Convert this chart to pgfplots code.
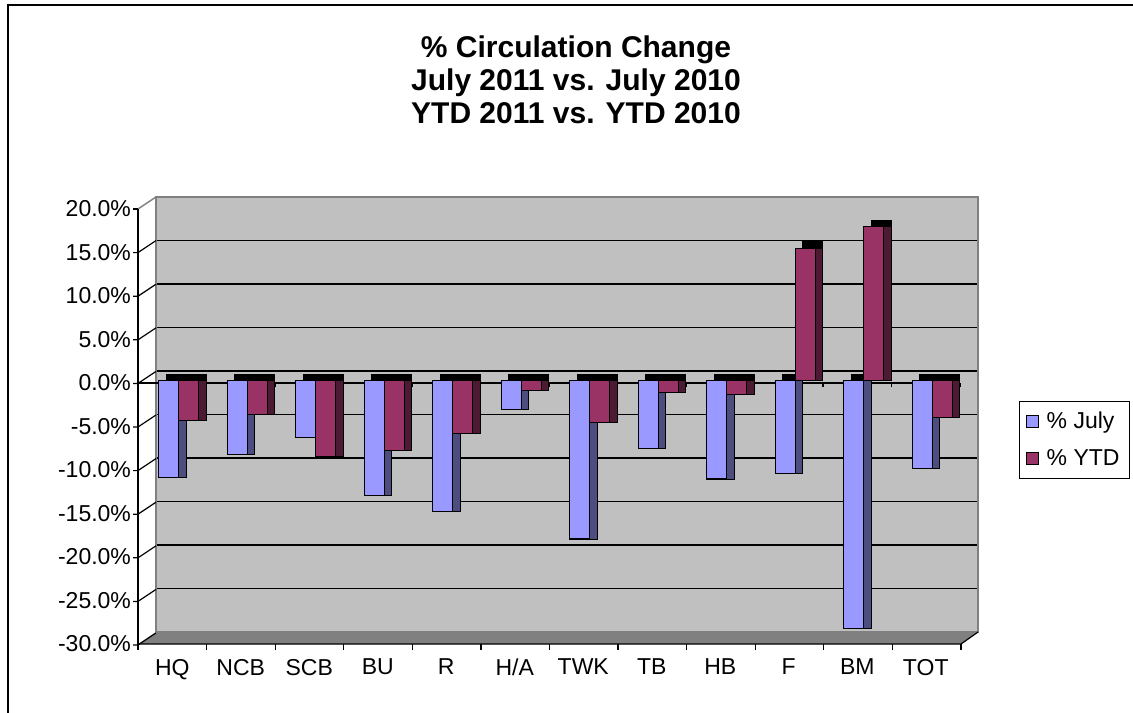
\documentclass[border=0pt]{standalone}
\usepackage{fontspec}
\setmainfont{Liberation Sans}
\usepackage{pgfplots}
\usepackage{pgfplotstable}
\pgfplotsset{compat=1.18}
\definecolor{wall}{RGB}{192,192,192}
\definecolor{floorc}{RGB}{128,128,128}
\definecolor{julyc}{RGB}{153,153,255}
\definecolor{julys}{RGB}{77,77,128}
\definecolor{ytdc}{RGB}{153,51,102}
\definecolor{ytds}{RGB}{77,26,51}

\pgfplotstableread{
idx july ytd
0 -11.1 -4.6
1 -8.5 -3.9
2 -6.5 -8.7
3 -13.2 -8.0
4 -15.0 -6.1
5 -3.3 -1.1
6 -18.2 -4.8
7 -7.8 -1.4
8 -11.3 -1.6
9 -10.7 15.2
10 -28.5 17.7
11 -10.1 -4.2
}\data

\begin{document}
\begin{tikzpicture}
\useasboundingbox (0,0) rectangle (566.5pt,-356pt);
\begin{scope}[x=0.5pt,y=-0.5pt]
  \draw[black, line width=0.6pt] (8,740) -- (8,5) -- (1160,5);
  \node[align=center, font=\bfseries\fontsize{15}{16.5}\selectfont] at (576,80)
    {\% Circulation Change\\July 2011 vs. July 2010\\YTD 2011 vs. YTD 2010};
\end{scope}
\begin{axis}[
  at={(78pt,-316pt)}, anchor=south west,
  scale only axis, width=411pt, height=217.5pt,
  xmin=-0.5, xmax=11.5, ymin=-30, ymax=20,
  ybar, bar width=10pt,
  clip=false,
  axis background/.style={fill=wall},
  axis line style={draw=floorc, line width=0.75pt},
  ymajorgrids, major grid style={black, line width=0.75pt},
  ytick={-30,-25,...,20},
  yticklabels={-30.0\%,-25.0\%,-20.0\%,-15.0\%,-10.0\%,-5.0\%,0.0\%,5.0\%,10.0\%,15.0\%,20.0\%},
  xtick={0,...,11},
  xticklabels={HQ,NCB,SCB,BU,R,H/A,TWK,TB,HB,F,BM,TOT},
  major tick length=0pt,
  tick label style={font=\fontsize{11.5}{13}\selectfont},
  yticklabel style={xshift=-9pt, yshift=-6pt},
  xticklabel style={xshift=-9pt, yshift=-10pt},
  legend style={at={(1.0499,0.531)}, anchor=north west, draw=black, line width=0.6pt,
    font=\fontsize{11.5}{13}\selectfont, row sep=5pt, inner xsep=3pt, inner ysep=3pt},
  legend cell align=left,
]
\draw[black, line width=0.75pt, xshift=-9pt, yshift=-6pt] (axis cs:-0.5,0) -- (axis cs:11.5,0);
\pgfplotsinvokeforeach{-0.5,0.5,...,11.5}{
  \draw[black, line width=0.6pt, xshift=-9pt, yshift=-6pt] (axis cs:#1,0) -- ++(0pt,-2pt);
}
% July series
\addplot[forget plot, fill=black, draw=black, line width=0.5pt, bar shift=-5pt, xshift=-2pt, yshift=-1.6pt] table[x=idx,y=july]{\data};
\addplot[forget plot, fill=julys, draw=black, line width=0.5pt, bar shift=-5pt, xshift=-2pt, yshift=-4.85pt] table[x=idx,y=july]{\data};
\addplot[forget plot, fill=julyc, draw=black, line width=0.6pt, bar shift=-5pt, xshift=-5.75pt, yshift=-4.85pt] table[x=idx,y=july]{\data};
% YTD series
\addplot[forget plot, fill=black, draw=black, line width=0.5pt, bar shift=5pt, xshift=-2pt, yshift=-1.6pt] table[x=idx,y=ytd]{\data};
\addplot[forget plot, fill=ytds, draw=black, line width=0.5pt, bar shift=5pt, xshift=-2pt, yshift=-4.85pt] table[x=idx,y=ytd]{\data};
\addplot[forget plot, fill=ytdc, draw=black, line width=0.6pt, bar shift=5pt, xshift=-5.75pt, yshift=-4.85pt] table[x=idx,y=ytd]{\data};
\addlegendimage{legend image code/.code={\draw[fill=julyc, draw=black, line width=0.5pt] (2pt,-3pt) rectangle (8pt,3pt); \path (10pt,0pt);}}
\addlegendentry{\% July}
\addlegendimage{legend image code/.code={\draw[fill=ytdc, draw=black, line width=0.5pt] (2pt,-3pt) rectangle (8pt,3pt); \path (10pt,0pt);}}
\addlegendentry{\% YTD}
\end{axis}
\begin{scope}[x=0.5pt,y=-0.5pt]
  \fill[floorc] (156,632) -- (978,632) -- (961,644) -- (138,644) -- cycle;
  \draw[black, line width=0.6pt] (138,644) -- (961,644) -- (978,632);
  \draw[floorc, line width=0.75pt] (138,209) -- (156,197);
  \draw[black, line width=0.75pt] (138,209) -- (138,645);
  \draw[black, line width=0.6pt] (133,209) -- (138,209);
  \foreach \v in {-30,-25,...,15} {
    \pgfmathsetmacro{\yf}{383.4-\v*8.72}
    \draw[black, line width=0.6pt] (133,\yf) -- (138,\yf) -- (156,\yf-12);
  }
  \foreach \k in {0,...,12} {
    \draw[black, line width=0.6pt] ({138+68.58*\k},644) -- ++(0,6);
  }
\end{scope}
\end{tikzpicture}
\end{document}
